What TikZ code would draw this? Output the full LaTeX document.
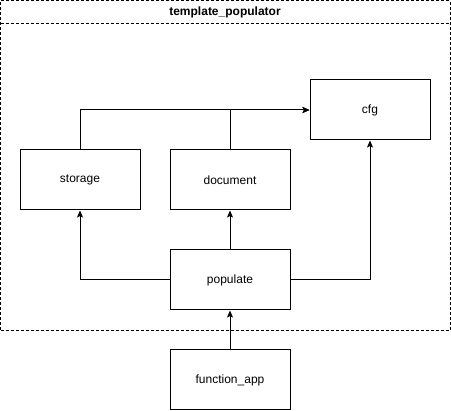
\documentclass[tikz,border=0pt]{standalone}
\usepackage{fontspec}
\setmainfont{Liberation Sans}
\usetikzlibrary{arrows.meta}
\begin{document}
\begin{tikzpicture}[x=1pt,y=-1pt,
  box/.style={draw=black,line width=1pt,fill=white,minimum width=120pt,minimum height=60pt,inner sep=0pt,font=\fontsize{12}{14}\selectfont},
  conn/.style={draw=black,line width=1pt,-{Stealth[length=7pt,width=6pt,inset=1.5pt]}},
  cont/.style={draw=black,line width=0.8pt,dash pattern=on 3pt off 2pt}]
\useasboundingbox (0,0) rectangle (451,411);
% container
\node[cont,minimum width=449.5pt,minimum height=329.5pt,anchor=north west,inner sep=0pt] (tp) at (0.5,0.5) {};
\coordinate (hl) at (0.5,23);
\coordinate (hr) at (450,23);
\draw[cont] (hl) -- (hr);
\node[font=\bfseries\fontsize{12}{14}\selectfont] (title) at (225,12) {template\_populator};
% nodes
\node[box] (cfg) at (370,110) {cfg};
\node[box] (storage) at (80,180) {storage};
\node[box] (document) at (230,180) {document};
\node[box] (populate) at (230,280) {populate};
\node[box] (fapp) at (230,380) {function\_app};
% connectors
\draw[conn] (storage.north) |- (cfg.west);
\draw[conn] (document.north) |- (cfg.west);
\draw[conn] (populate.west) -| (storage.south);
\draw[conn] (populate.north) -- (document.south);
\draw[conn] (populate.east) -| (cfg.south);
\draw[conn] (fapp.north) -- (populate.south);
\end{tikzpicture}
\end{document}
